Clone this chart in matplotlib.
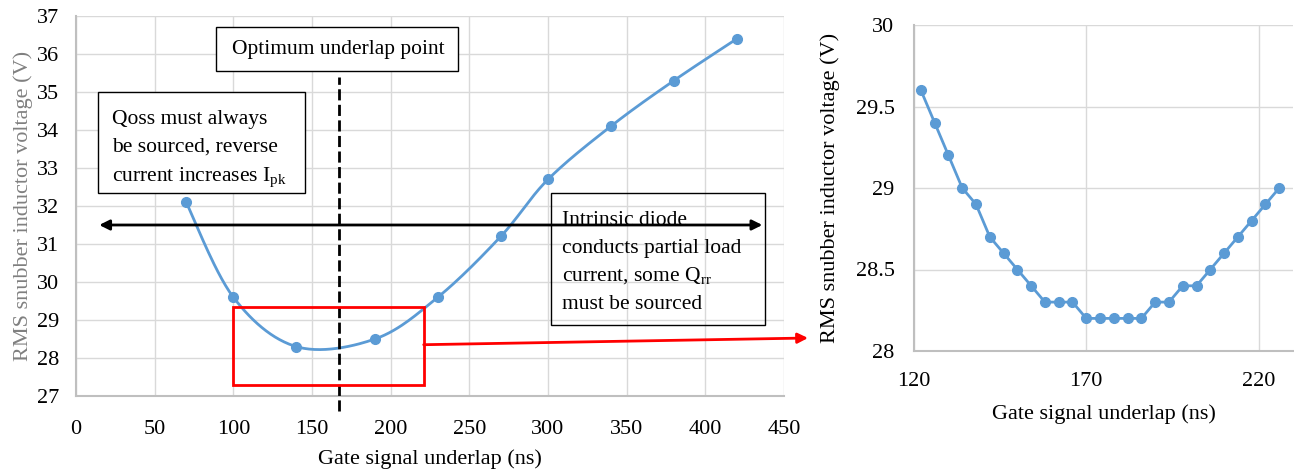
import numpy as np
import matplotlib
matplotlib.use("Agg")
import matplotlib.pyplot as plt
from matplotlib.patches import Rectangle

# 데이터
x_main = [70, 100, 140, 190, 230, 270, 300, 340, 380, 420]
y_main = [32.1, 29.6, 28.3, 28.5, 29.6, 31.2, 32.7, 34.1, 35.3, 36.4]

x_zoom = [122, 126, 130, 134, 138, 142, 146, 150, 154, 158, 162, 166, 170,
          174, 178, 182, 186, 190, 194, 198, 202, 206, 210, 214, 218, 222, 226]
y_zoom = [29.6, 29.4, 29.2, 29.0, 28.9, 28.7, 28.6, 28.5, 28.4, 28.3, 28.3, 28.3, 28.2,
          28.2, 28.2, 28.2, 28.2, 28.3, 28.3, 28.4, 28.4, 28.5, 28.6, 28.7, 28.8, 28.9, 29.0]

x_ticks_main = [0, 50, 100, 150, 200, 250, 300, 350, 400, 450]
y_ticks_main = [27, 28, 29, 30, 31, 32, 33, 34, 35, 36, 37]
x_ticks_zoom = [120, 170, 220]
y_ticks_zoom = [28, 28.5, 29, 29.5, 30]

optimum_x = 167

qoss_lines = ["Qoss must always", "be sourced, reverse", "current increases I$_{\\mathrm{pk}}$"]
diode_lines = ["Intrinsic diode", "conducts partial load", "current, some Q$_{\\mathrm{rr}}$",
               "must be sourced"]

plt.rcParams['font.family'] = ['Liberation Serif', 'DejaVu Serif']
plt.rcParams['mathtext.fontset'] = 'custom'
plt.rcParams['mathtext.rm'] = 'Liberation Serif'
plt.rcParams['mathtext.it'] = 'Liberation Serif:italic'

blue = '#5b9bd5'
grid_c = '#d9d9d9'
spine_c = '#bfbfbf'
fs = 16
fs_box = 15.5


def smooth(xs, ys, n=30):
    # Excel 스타일 스무딩 (Catmull-Rom / Bezier)
    p = np.column_stack([xs, ys]).astype(float)
    p = np.vstack([p[0], p, p[-1]])
    out = []
    t = np.linspace(0, 1, n)[:, None]
    for i in range(1, len(p) - 2):
        p0, p1, p2, p3 = p[i - 1], p[i], p[i + 1], p[i + 2]
        c1 = p1 + (p2 - p0) / 6
        c2 = p2 - (p3 - p1) / 6
        seg = ((1 - t) ** 3) * p1 + 3 * ((1 - t) ** 2) * t * c1 + 3 * (1 - t) * t ** 2 * c2 + t ** 3 * p2
        out.append(seg)
    out = np.vstack(out)
    return out[:, 0], out[:, 1]


fig = plt.figure(figsize=(12.94, 4.71), dpi=100)
ax1 = fig.add_axes([76 / 1294, 1 - 396 / 471, (784 - 76) / 1294, (396 - 16) / 471])
ax2 = fig.add_axes([914 / 1294, 1 - 351 / 471, (1293 - 914) / 1294, (351 - 25) / 471])

for ax in (ax1, ax2):
    ax.grid(True, color=grid_c, lw=1)
    ax.set_axisbelow(True)
    for s in ('top', 'right'):
        ax.spines[s].set_visible(False)
    for s in ('left', 'bottom'):
        ax.spines[s].set_color(spine_c)
        ax.spines[s].set_linewidth(1.5)
    ax.tick_params(length=0, labelsize=fs)

# --- 왼쪽 메인 차트 ---
sx, sy = smooth(x_main, y_main)
ax1.plot(sx, sy, color=blue, lw=2, zorder=3)
ax1.plot(x_main, y_main, 'o', color=blue, ms=7, zorder=4)
ax1.set_xlim(0, 450)
ax1.set_ylim(27, 37)
ax1.set_xticks(x_ticks_main)
ax1.set_yticks(y_ticks_main)
ax1.tick_params(axis='y', pad=12)
ax1.tick_params(axis='x', pad=17)
ax1.set_xlabel("Gate signal underlap (ns)", fontsize=fs, labelpad=8)
ax1.set_ylabel("RMS snubber inductor voltage (V)", fontsize=fs, color='#808080', labelpad=3)

ax1.plot([optimum_x, optimum_x], [26.6, 35.4], color='black', lw=2, ls=(0, (4, 1.6)),
         clip_on=False, zorder=5)
ax1.annotate('', xy=(13, 31.5), xytext=(438, 31.5),
             arrowprops=dict(arrowstyle='<|-|>', color='black', lw=2, mutation_scale=15),
             zorder=6)

# 텍스트 상자 (줄 간격을 균일하게 하려고 한 줄씩 배치)
ax1.add_patch(Rectangle((89, 35.55), 154, 1.16, fc='white', ec='black', lw=1, zorder=7))
ax1.text(optimum_x, 36.13, "Optimum underlap point", fontsize=fs_box, ha='center', va='center',
         zorder=8)
ax1.add_patch(Rectangle((14, 32.34), 131.5, 2.66, fc='white', ec='black', lw=1, zorder=7))
for i, line in enumerate(qoss_lines):
    ax1.text(23, 34.17 - i * 0.75, line, fontsize=fs_box, ha='left', va='baseline', zorder=8)
ax1.add_patch(Rectangle((302, 28.87), 136, 3.47, fc='none', ec='black', lw=1, zorder=7))
for i, line in enumerate(diode_lines):
    ax1.text(309, 31.51 - i * 0.74, line, fontsize=fs_box, ha='left', va='baseline', zorder=8)

ax1.add_patch(Rectangle((100, 27.3), 121, 2.05, fill=False, ec='red', lw=2, zorder=6))
ax1.annotate('', xy=(808 / 1294, 1 - 338 / 471), xycoords='figure fraction',
             xytext=(221, 28.35), textcoords='data',
             arrowprops=dict(arrowstyle='-|>', color='red', lw=2, mutation_scale=15,
                             shrinkA=0, shrinkB=0),
             annotation_clip=False, zorder=6)

# --- 오른쪽 확대 차트 ---
ax2.plot(x_zoom, y_zoom, '-o', color=blue, lw=2, ms=7)
ax2.set_xlim(120, 230)
ax2.set_ylim(28, 30)
ax2.set_xticks(x_ticks_zoom)
ax2.set_yticks(y_ticks_zoom)
ax2.set_yticklabels(['28', '28.5', '29', '29.5', '30'])
ax2.tick_params(axis='y', pad=14)
ax2.tick_params(axis='x', pad=15)
ax2.set_xlabel("Gate signal underlap (ns)", fontsize=fs, labelpad=10)
ax2.set_ylabel("RMS snubber inductor voltage (V)", fontsize=fs, labelpad=11)

fig.savefig("out.png", dpi=100)
